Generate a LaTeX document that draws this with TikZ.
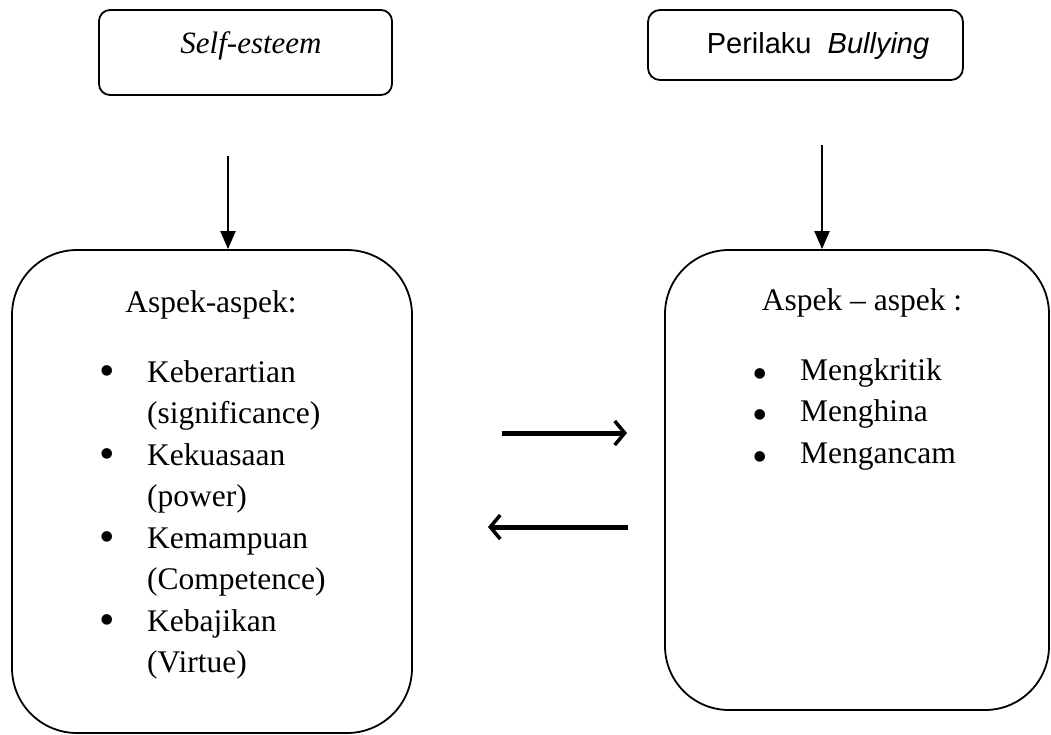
\documentclass[tikz,border=0pt]{standalone}
\usepackage{fontspec}
\setmainfont{Liberation Serif}
\setsansfont{Liberation Sans}
\usetikzlibrary{arrows.meta}

\newcommand{\butir}[1]{\raisebox{#1}{\scalebox{1.4}{\textbullet}}}

\tikzset{
  kotak/.style={draw, line width=1.8pt, inner sep=0pt},
  judul/.style={inner sep=0pt, anchor=base, font=\fontsize{31}{40}\selectfont},
  isi/.style={inner sep=0pt, anchor=base west, font=\fontsize{31.5}{41.5}\selectfont},
  panahturun/.style={line width=2pt, -{Triangle[length=18pt,width=15pt]}},
  panahtebal/.style={line width=5pt, -{Straight Barb[length=10pt,width=24pt,line width=3.5pt]}}
}

\begin{document}
\begin{tikzpicture}[x=1pt,y=-1pt]
                \useasboundingbox (0,0) rectangle (1051,734);

                \node[kotak, rounded corners=11pt, minimum width=293pt, minimum height=85pt] (selfbox) at (245.5,52.5) {}; %self-esteem
                \node[judul] (selftxt) at (251,53) {\itshape Self-esteem};
                \node[kotak, rounded corners=12pt, minimum width=315pt, minimum height=70pt] (bullybox) at (805.5,45) {}; %perilaku bullying
                \node[judul, font=\sffamily\fontsize{29}{36}\selectfont] (bullytxt) at (818,53) {Perilaku\ \ \textit{Bullying}};

                \node[kotak, rounded corners=65pt, minimum width=400pt, minimum height=483pt] (kiri) at (212,491.5) {}; %aspek self-esteem
                \node[kotak, rounded corners=64pt, minimum width=384pt, minimum height=460pt] (kanan) at (857,480) {}; %aspek bullying

                \node[judul, font=\fontsize{31.5}{41.5}\selectfont] (kirijudul) at (211,312) {Aspek-aspek:};
                \node[isi] (kirilist) at (99,382) {\begin{tabular}[t]{@{}p{48pt}@{}l@{}}
                    \butir{-3pt} & Keberartian\\ & (significance)\\
                    \butir{-3pt} & Kekuasaan\\ & (power)\\
                    \butir{-3pt} & Kemampuan\\ & (Competence)\\
                    \butir{-3pt} & Kebajikan\\ & (Virtue)
                  \end{tabular}};

                \node[judul, font=\fontsize{31.5}{41.5}\selectfont] (kananjudul) at (862,310) {Aspek -- aspek :};
                \node[isi] (kananlist) at (752,380) {\begin{tabular}[t]{@{}p{48pt}@{}l@{}}
                    \butir{-8pt} & Mengkritik\\
                    \butir{-8pt} & Menghina\\
                    \butir{-8pt} & Mengancam
                  \end{tabular}};

                \coordinate (selfawal) at (228,156);
                \coordinate (bullyawal) at (822,145);
                \draw[panahturun] (selfawal) -- (selfawal |- kiri.north);
                \draw[panahturun] (bullyawal) -- (bullyawal |- kanan.north);

                \coordinate (majuA) at (502,433);
                \coordinate (majuB) at (627,433);
                \coordinate (balikA) at (628,527);
                \coordinate (balikB) at (488,527);
                \draw[panahtebal] (majuA) -- (majuB);
                \draw[panahtebal] (balikA) -- (balikB);
            \end{tikzpicture}
\end{document}
